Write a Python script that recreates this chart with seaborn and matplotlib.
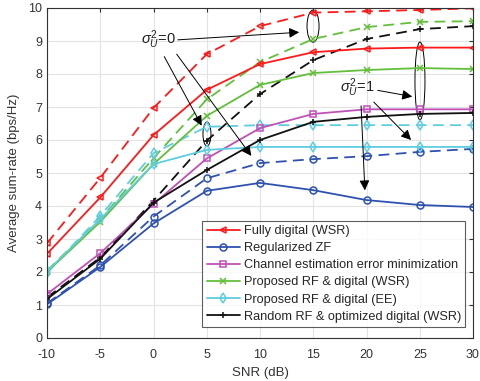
import matplotlib
matplotlib.use("Agg")
import matplotlib.pyplot as plt
from matplotlib.patches import Ellipse
import seaborn as sns
import pandas as pd

snr = [-10, -5, 0, 5, 10, 15, 20, 25, 30]

fd_s0 = [2.87, 4.85, 6.97, 8.60, 9.45, 9.86, 9.90, 9.94, 9.99]
fd_s1 = [2.55, 4.26, 6.15, 7.52, 8.30, 8.66, 8.77, 8.80, 8.80]
zf_s0 = [1.05, 2.20, 3.68, 4.84, 5.30, 5.42, 5.51, 5.64, 5.73]
zf_s1 = [1.02, 2.15, 3.47, 4.46, 4.70, 4.48, 4.18, 4.03, 3.97]
ce_s1 = [1.33, 2.57, 4.06, 5.44, 6.36, 6.79, 6.93, 6.93, 6.93]
wsr_s0 = [2.04, 3.60, 5.45, 7.23, 8.36, 9.06, 9.42, 9.58, 9.60]
wsr_s1 = [2.00, 3.52, 5.27, 6.73, 7.67, 8.03, 8.12, 8.18, 8.15]
ee_s0 = [1.97, 3.70, 5.60, 6.40, 6.45, 6.45, 6.45, 6.45, 6.45]
ee_s1 = [2.02, 3.60, 5.27, 5.70, 5.79, 5.79, 5.79, 5.79, 5.79]
rnd_s0 = [1.23, 2.44, 4.16, 5.98, 7.39, 8.42, 9.06, 9.36, 9.45]
rnd_s1 = [1.18, 2.40, 4.10, 5.09, 6.00, 6.55, 6.70, 6.79, 6.82]

methods = ["Fully digital (WSR)", "Regularized ZF",
           "Channel estimation error minimization",
           "Proposed RF & digital (WSR)", "Proposed RF & digital (EE)",
           "Random RF & optimized digital (WSR)"]
solid = [fd_s1, zf_s1, ce_s1, wsr_s1, ee_s1, rnd_s1]
dashed = [fd_s0, zf_s0, None, wsr_s0, ee_s0, rnd_s0]
y_ticks = list(range(0, 11))
x_ticks = snr

colors = ["#ff1a1a", "#2f52b0", "#c050b8", "#62bf3a", "#5fcde0", "#111111"]
markers = ["<", "o", "s", "x", "d", "+"]

sns.set_style("white")
plt.rcParams["font.family"] = ["Liberation Sans", "DejaVu Sans"]
plt.rcParams["mathtext.fontset"] = "custom"
plt.rcParams["mathtext.rm"] = "Liberation Sans"
plt.rcParams["mathtext.it"] = "Liberation Sans:italic"
plt.rcParams["axes.unicode_minus"] = False

fig = plt.figure(figsize=(4.8, 3.81), dpi=100)
ax = fig.add_axes([47/480, 1-338/381, 426/480, 330/381])

for i, m in enumerate(methods):
    mfc = "none" if markers[i] not in ("x", "+") else colors[i]
    if dashed[i] is not None:
        df = pd.DataFrame({"snr": snr, "rate": dashed[i]})
        sns.lineplot(data=df, x="snr", y="rate", ax=ax, color=colors[i],
                     linestyle=(0, (6, 3.5)), lw=1.3, marker=markers[i], ms=5,
                     mfc=mfc, mec=colors[i], mew=1.1, label="_nolegend_")
for i, m in enumerate(methods):
    mfc = "none" if markers[i] not in ("x", "+") else colors[i]
    df = pd.DataFrame({"snr": snr, "rate": solid[i]})
    sns.lineplot(data=df, x="snr", y="rate", ax=ax, color=colors[i],
                 lw=1.3, marker=markers[i], ms=5, mfc=mfc,
                 mec=colors[i], mew=1.1, label=m)

ax.set_xlim(-10, 30)
ax.set_ylim(0, 10)
ax.set_xticks(x_ticks)
ax.set_yticks(y_ticks)
ax.grid(True, color="#e3e3e3", lw=0.8)
ax.tick_params(direction="in", length=3, labelsize=9, colors="#333333",
               top=True, right=True)
ax.tick_params(axis="x", pad=8)
for s in ax.spines.values():
    s.set_color("#333333")
    s.set_linewidth(0.8)
ax.set_xlabel("SNR (dB)", fontsize=9.5, color="#333333", labelpad=4)
ax.set_ylabel("Average sum-rate (bps/Hz)", fontsize=9.5, color="#333333",
              labelpad=6)

leg = ax.legend(loc="lower left", bbox_to_anchor=(0.364, 0.033), fontsize=9.2,
                frameon=True, fancybox=False, edgecolor="#333333",
                handlelength=2.6, borderpad=0.35, labelspacing=0.4,
                handletextpad=0.3, borderaxespad=0)
leg.get_frame().set_linewidth(0.8)

ap = dict(arrowstyle="-|>", color="k", lw=0.7, mutation_scale=15)
ax.text(0.42, 9.03, r"$\sigma^2_U$=0", fontsize=10.5, ha="center", va="center",
        color="#222222")
ax.annotate("", xy=(13.94, 9.27), xytext=(2.02, 9.03), arrowprops=ap)
ax.annotate("", xy=(4.65, 6.36), xytext=(0.89, 8.6), arrowprops=ap)
ax.annotate("", xy=(9.34, 5.45), xytext=(2.02, 8.67), arrowprops=ap)
ax.add_patch(Ellipse((14.98, 9.45), 1.13, 0.97, fill=False, ec="k", lw=0.7))
ax.add_patch(Ellipse((5.02, 6.18), 0.75, 0.73, fill=False, ec="k", lw=0.7))

ax.text(19.1, 7.58, r"$\sigma^2_U$=1", fontsize=10.5, ha="center", va="center",
        color="#222222")
ax.annotate("", xy=(24.55, 7.3), xytext=(20.8, 7.52), arrowprops=ap)
ax.annotate("", xy=(24.37, 5.94), xytext=(20.5, 7.21), arrowprops=ap)
ax.annotate("", xy=(19.86, 4.39), xytext=(19.48, 7.12), arrowprops=ap)
ax.add_patch(Ellipse((25.02, 7.79), 0.94, 2.36, fill=False, ec="k", lw=0.7))

fig.savefig("out.png", dpi=100)
